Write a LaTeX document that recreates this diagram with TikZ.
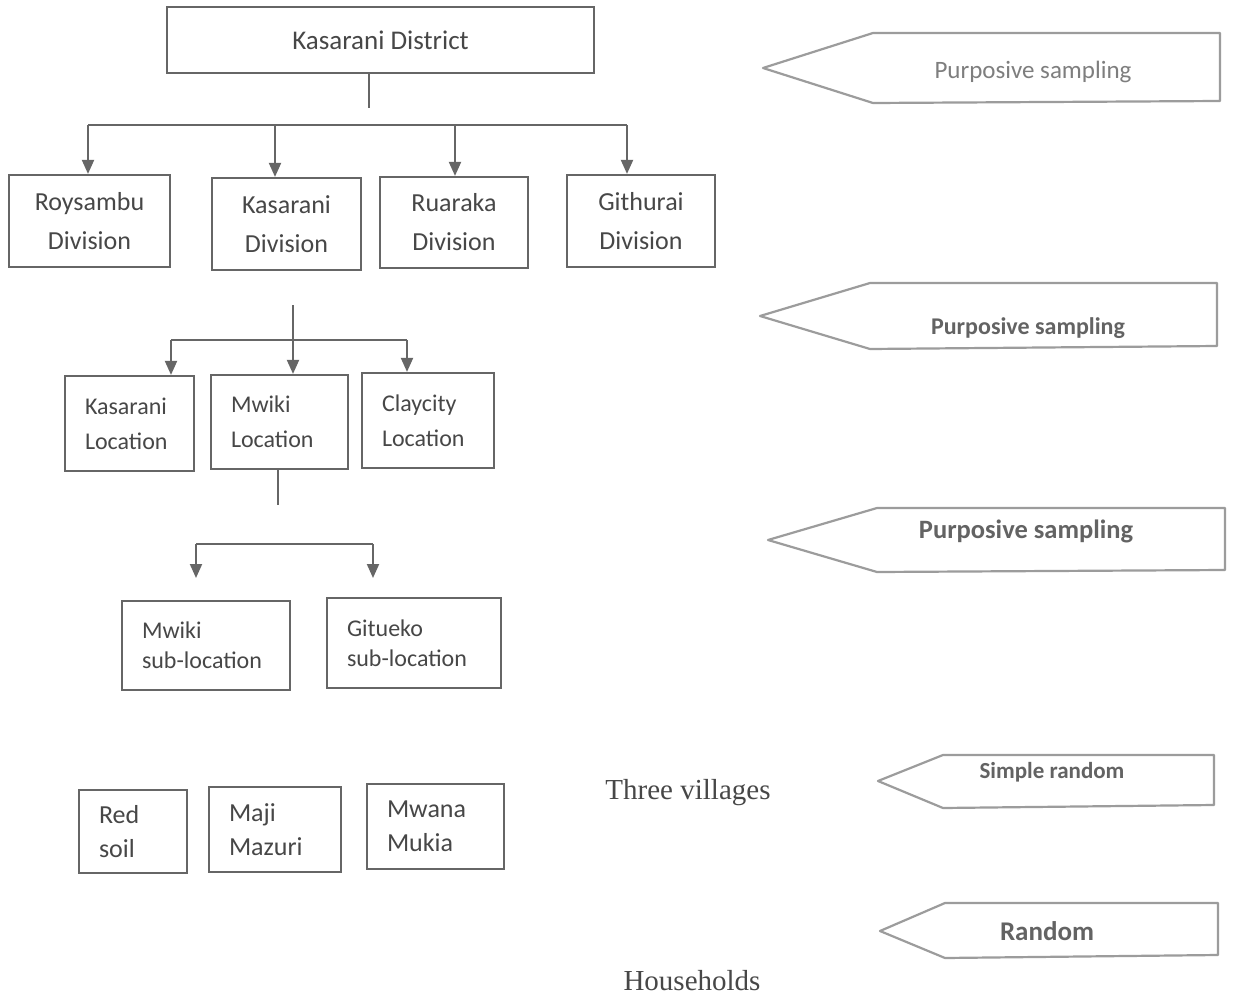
\documentclass[tikz,border=0pt]{standalone}
\usepackage{fontspec}
\setmainfont{Carlito}
\newfontfamily\timesface{Liberation Serif}
\usepackage{xcolor}
\usepackage{tikz}
\usetikzlibrary{positioning,arrows.meta,calc}

\definecolor{boxline}{HTML}{666666}
\definecolor{tagline}{HTML}{9C9C9C}
\definecolor{inkgray}{HTML}{474747}

\begin{document}
\begin{tikzpicture}[x=1pt, y=-1pt, >={Triangle[length=14pt,width=12pt]},
  unit/.style={draw=boxline, line width=2.2pt, text=inkgray, inner xsep=20pt, inner ysep=0pt},
  division/.style={unit, align=center, inner xsep=0pt, font=\fontsize{26}{39}\selectfont},
  place/.style={unit, align=left, font=\fontsize{24}{35}\selectfont},
  subplace/.style={unit, align=left, font=\fontsize{24}{30}\selectfont},
  village/.style={unit, align=left, font=\fontsize{26}{34}\selectfont},
  link/.style={draw=boxline, line width=2pt},
  tag/.style={draw=tagline, line width=2.2pt, line join=round},
  tagtext/.style={text=inkgray!85, font=\bfseries\fontsize{24}{28}\selectfont},
  note/.style={text=inkgray, font=\timesface\fontsize{29}{32}\selectfont}]

  \useasboundingbox[fill=white] (0,0) rectangle (1235,998);

  % district and divisions
  \node[unit, minimum width=427pt, minimum height=66pt,
        font=\fontsize{27}{32}\selectfont] (district) at (380.5,40) {Kasarani District};

  \node[division, minimum width=161pt, minimum height=92pt] (roy)  at (89.5,221)  {Roysambu\\Division};
  \node[division, minimum width=149pt, minimum height=92pt] (kdiv) at (286.5,224) {Kasarani\\Division};
  \node[division, minimum width=148pt, minimum height=91pt] (rua)  at (454,222.5) {Ruaraka\\Division};
  \node[division, minimum width=148pt, minimum height=92pt] (git)  at (641,221)   {Githurai\\Division};

  % locations
  \node[place, text width=89pt, minimum height=95pt] (kloc) at (129.5,423.5) {Kasarani\\Location};
  \node[place, text width=97pt, minimum height=94pt] (mloc) at (279.5,422)   {Mwiki\\Location};
  \node[place, text width=92pt, minimum height=95pt] (cloc) at (428,420.5)   {Claycity\\Location};

  % sub-locations
  \node[subplace, text width=128pt, minimum height=89pt] (msub) at (206,645.5) {Mwiki\\sub-location};
  \node[subplace, text width=134pt, minimum height=90pt] (gsub) at (414,643)   {Gitueko\\sub-location};

  % villages
  \node[village, text width=68pt, minimum height=83pt] (red)   at (133,831.5) {Red\\soil};
  \node[village, text width=92pt, minimum height=85pt] (maji)  at (275,829.5) {Maji\\Mazuri};
  \node[village, text width=97pt, minimum height=85pt] (mwana) at (435.5,826.5) {Mwana\\Mukia};

  \node[note] (villages) at (688,793) {Three villages};
  \node[note] (homes) at (692,981) {Households};

  % district -> divisions
  \coordinate (d0) at (369,108);
  \draw[link] (d0 |- district.south) -- (d0);
  \coordinate (b1w) at (88,125);
  \coordinate (b1e) at (627,125);
  \draw[link] (b1w) -- (b1e);
  \foreach \x/\n in {88/roy, 275/kdiv, 455/rua, 627/git} {
    \coordinate (top) at (\x,125);
    \draw[link,->] (top) -- (top |- \n.north);
  }

  % division -> locations
  \coordinate (k0) at (293,305);
  \draw[link,->] (k0) -- (k0 |- mloc.north);
  \coordinate (b2w) at (171,340);
  \coordinate (b2e) at (407,340);
  \draw[link] (b2w) -- (b2e);
  \draw[link,->] (b2w) -- (b2w |- kloc.north);
  \draw[link,->] (b2e) -- (b2e |- cloc.north);

  % location -> sub-locations
  \coordinate (m0) at (278,505);
  \draw[link] (m0 |- mloc.south) -- (m0);
  \coordinate (b3w) at (196,544);
  \coordinate (b3e) at (373,544);
  \draw[link] (b3w) -- (b3e);
  \draw[link,->] (b3w) -- ++(0,34);
  \draw[link,->] (b3e) -- ++(0,34);

  % sampling tags
  \node[tagtext, font=\fontsize{25}{28}\selectfont, text=inkgray!70] (tag1) at (1033,72) {Purposive sampling};
  \draw[tag] (1220,33) -- (873,33) -- (763,68) -- (873,103) -- (1220,101) -- cycle;

  \node[tagtext] (tag2) at (1028,328) {Purposive sampling};
  \draw[tag] (1217,283) -- (870,283) -- (760,316) -- (870,349) -- (1217,346) -- cycle;

  \node[tagtext, font=\bfseries\fontsize{26.5}{30}\selectfont] (tag3) at (1026,531) {Purposive sampling};
  \draw[tag] (1225,508) -- (877,508) -- (768,540) -- (877,572) -- (1225,570) -- cycle;

  \node[tagtext, font=\bfseries\fontsize{23}{26}\selectfont] (tag4) at (1052,772) {Simple random};
  \draw[tag] (1214,755) -- (943,755) -- (878,781) -- (943,808) -- (1214,805) -- cycle;

  \node[tagtext, font=\bfseries\fontsize{27}{30}\selectfont] (tag5) at (1047,931) {Random};
  \draw[tag] (1218,903) -- (945,903) -- (880,931) -- (945,958) -- (1218,955) -- cycle;
\end{tikzpicture}
\end{document}
